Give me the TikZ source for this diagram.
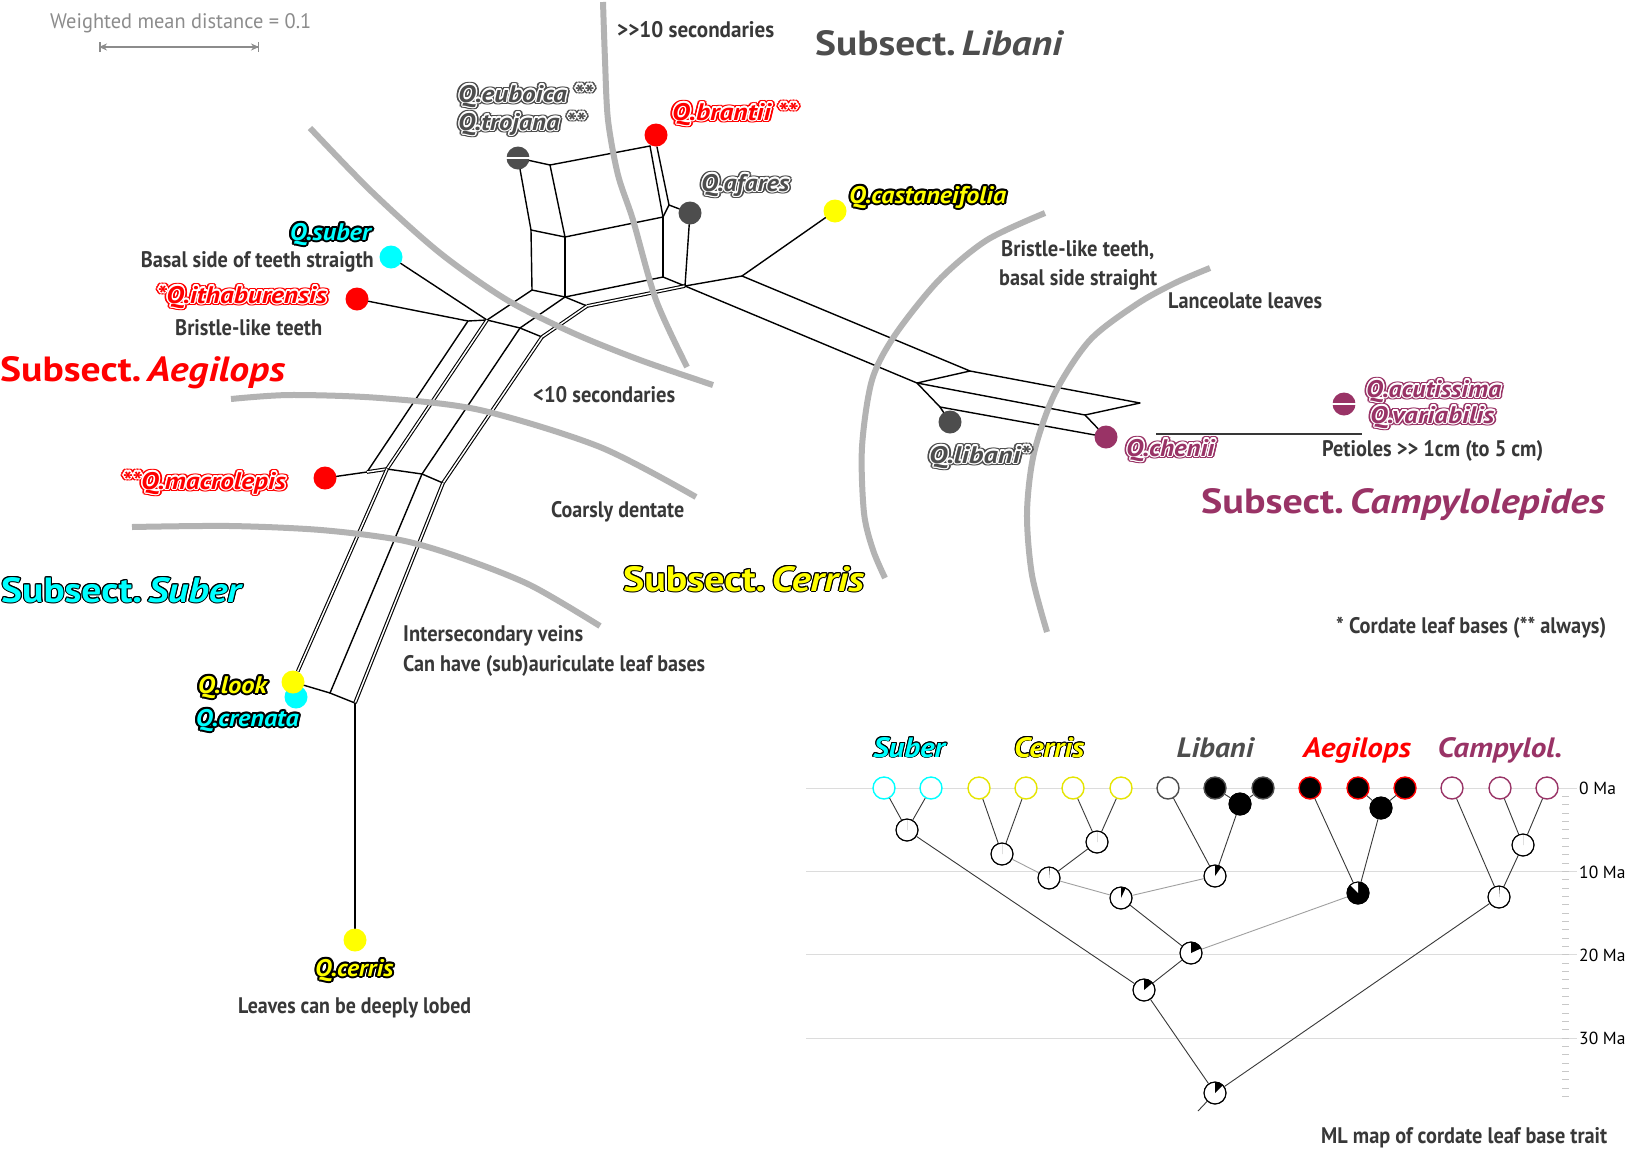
\documentclass[tikz,border=0pt]{standalone}
\usepackage{fontspec}
\setmainfont{PT Sans}
\usepackage{graphicx}
\usepackage[copies]{contour}
\contournumber{12}
\usetikzlibrary{arrows.meta}

\definecolor{txt}{HTML}{383838}
\definecolor{libc}{HTML}{4D4D4D}
\definecolor{camc}{HTML}{993366}
\definecolor{aegc}{HTML}{FF0000}
\definecolor{subc}{HTML}{00FFFF}
\definecolor{cerc}{HTML}{FFFF00}
\definecolor{arcc}{HTML}{B3B3B3}
\definecolor{gridc}{HTML}{DCDCDC}
\definecolor{tickc}{HTML}{C8C8C8}
\definecolor{scalec}{HTML}{8C8C8C}
\definecolor{lightedge}{HTML}{A0A0A0}

% set a text to a given width, keeping its height
\newcommand\wfit[2]{\resizebox{#1pt}{\height}{#2}}
% two "greater than" signs without the guillemet ligature
\newcommand\gtgt{>\kern0pt>}
% taxon label: coloured letters, thin white rim, coloured halo
\newcommand\taxw[6]{%
  \node[taxon, anchor=#2] (#1h) at #3 {\wfit{#5}{\contourlength{2.8pt}\contour{#4}{\textcolor{#4}{#6}}}};
  \node[taxon, anchor=#2] (#1) at #3 {\wfit{#5}{\contourlength{1.2pt}\contour{white}{\textcolor{#4}{#6}}}};}
% taxon label: coloured letters with a black rim
\newcommand\taxk[6]{%
  \node[taxon, anchor=#2] (#1) at #3 {\wfit{#5}{\contourlength{2pt}\contour{black}{\textcolor{#4}{#6}}}};}
% ancestral state pie: name, position, base colour, wedge colour, wedge end angle
\newcommand\anc[5]{%
  \node[tnode, fill=#3] (#1) at #2 {};
  \fill[#4] (#1.center) -- ++(0,-11) arc[start angle=-90, end angle=#5, radius=11] -- cycle;
  \draw[line width=1pt] (#1.center) circle[radius=11];}
% tip of the dated tree: name, x, outline, fill
\newcommand\tip[4]{\node[tnode, draw=#3, fill=#4, line width=1.4pt] (#1) at (#2,788) {};}

\begin{document}
\begin{tikzpicture}[x=1pt,y=-1pt,
  netline/.style={line width=1.4pt, line join=round, line cap=round},
  dblline/.style={double, double distance=1.5pt, line width=1.1pt},
  sepline/.style={arcc, line width=6pt},
  taxdot/.style={circle, inner sep=0pt, minimum size=23pt},
  taxon/.style={font=\bfseries\itshape\fontsize{24}{28}\selectfont, inner sep=0pt},
  notetext/.style={text=txt, font=\bfseries\fontsize{22.5}{26}\selectfont, inner sep=0pt},
  headtext/.style={font=\bfseries\fontsize{35}{40}\selectfont, inner sep=0pt},
  grouptext/.style={font=\bfseries\itshape\fontsize{28}{32}\selectfont, inner sep=0pt},
  matext/.style={font=\fontsize{17.5}{20}\selectfont, inner sep=0pt},
  tnode/.style={circle, inner sep=0pt, minimum size=22pt, draw=black, line width=1pt},
  tedge/.style={draw=txt, line width=0.9pt},
  tlight/.style={draw=lightedge, line width=0.9pt}]

\useasboundingbox (0,0) rectangle (1633,1152);
\fill[white] (0,0) rectangle (1633,1152);

% ---------------- scale bar ----------------
\node[font=\fontsize{21}{24}\selectfont, text=scalec, anchor=base west, inner sep=0pt] (scaletext) at (50,28) {\wfit{261}{Weighted mean distance = 0.1}};
\coordinate (sbL) at (99,47);
\coordinate (sbR) at (259,47);
\draw[scalec, line width=1.5pt, {Bar[width=10pt]}-{Bar[width=10pt]}] (sbL) -- (sbR);
\draw[scalec, line width=1.5pt, {Stealth[length=8pt,width=7pt]}-{Stealth[length=8pt,width=7pt]}] (sbL) -- (sbR);

% ---------------- taxa of the network ----------------
\node[taxdot, fill=libc] (E0) at (518,158) {};
\node[taxdot, fill=aegc] (BR) at (656,135) {};
\node[taxdot, fill=libc] (AF) at (690,213) {};
\node[taxdot, fill=cerc] (CA) at (835,211) {};
\node[taxdot, fill=subc] (SU) at (391,257) {};
\node[taxdot, fill=aegc] (IT) at (357,299) {};
\node[taxdot, fill=aegc] (MA) at (325,478) {};
\node[taxdot, fill=subc] (CR) at (296,697) {};
\node[taxdot, fill=cerc] (LK) at (293,682) {};
\node[taxdot, fill=cerc] (CE) at (355,940) {};
\node[taxdot, fill=libc] (LB) at (950,422) {};
\node[taxdot, fill=camc] (CH) at (1106,437) {};
\node[taxdot, fill=camc] (AC) at (1344,404) {};
\draw[white, line width=1.3pt] (E0.west) -- (E0.east);
\draw[white, line width=1.3pt] (AC.west) -- (AC.east);

% ---------------- split network ----------------
\coordinate (A1) at (550,165);
\coordinate (BRa) at (650,146);
\coordinate (BRb) at (657,147);
\coordinate (C1) at (531,230);
\coordinate (D1) at (565,237);
\coordinate (F1) at (663,217);
\coordinate (G1) at (669,205);
\coordinate (C2) at (532,290);
\coordinate (D2) at (565,297);
\coordinate (F2) at (663,277);
\coordinate (G2) at (685,286);
\coordinate (H) at (587,306);
\coordinate (P0) at (468,321);
\coordinate (P1) at (487,320);
\coordinate (P2) at (520,328);
\coordinate (P3) at (542,337);
\coordinate (Q0) at (367,472);
\coordinate (Q1) at (387,469);
\coordinate (Q2) at (422,474);
\coordinate (Q3) at (443,483);
\coordinate (R1) at (330,693);
\coordinate (R2) at (355,703);
\coordinate (K) at (742,276);
\coordinate (L1) at (970,371);
\coordinate (L2) at (917,383);
\coordinate (L3) at (1140,403);
\coordinate (L4) at (1085,415);
\coordinate (L5) at (940,407);

% upper box (Libani / Aegilops part)
\draw[netline] (E0) -- (A1) -- (BRa);
\draw[netline] (E0) -- (C1) -- (D1) -- (A1);
\draw[netline] (BRa) -- (F1);
\draw[netline] (BRb) -- (G1);
\draw[netline] (F1) -- (G1) -- (AF);
\draw[netline] (D1) -- (F1);
\draw[netline] (C1) -- (C2);
\draw[netline] (D1) -- (D2);
\draw[netline] (F1) -- (F2);
\draw[netline] (AF) -- (G2);
\draw[netline] (C2) -- (D2) -- (F2) -- (G2);
\draw[netline] (D2) -- (H);
\draw[dblline] (H) -- (G2);
% band towards Q. cerris
\draw[netline] (SU) -- (P1);
\draw[netline] (IT) -- (P0) -- (P1) -- (C2);
\draw[netline] (P1) -- (P2) -- (P3);
\draw[netline] (D2) -- (P2);
\draw[dblline] (H) -- (P3);
\draw[netline] (P0) -- (Q0);
\draw[dblline] (P1) -- (Q1);
\draw[netline] (P2) -- (Q2);
\draw[dblline] (P3) -- (Q3);
\draw[netline] (MA) -- (Q0);
\draw[dblline] (Q0) -- (Q1);
\draw[netline] (Q1) -- (Q2) -- (Q3);
\draw[dblline] (Q1) -- (LK);
\draw[netline] (LK) -- (R1) -- (R2);
\draw[netline] (Q2) -- (R1);
\draw[dblline] (Q3) -- (R2);
\draw[netline] (R2) -- (CE);
% band towards Q. chenii
\draw[netline] (G2) -- (K) -- (CA);
\draw[netline] (K) -- (L1) -- (L3) -- (L4) -- (L2) -- (L1);
\draw[netline] (G2) -- (L2) -- (L5) -- (LB);
\draw[netline] (L5) -- (CH);
\draw[netline] (L4) -- (CH);

% petiole bar
\coordinate (pt1) at (1156,434);
\coordinate (pt2) at (1362,434);
\draw[txt, line width=1.6pt] (pt1) -- (pt2);

% ---------------- grey boundaries ----------------
\draw[sepline] plot[smooth] coordinates {(603,2) (605,60) (608,120) (618,175) (633,220) (656,300) (687,367)};
\draw[sepline] plot[smooth] coordinates {(310,128) (372,192) (440,253) (507,300) (573,333) (640,360) (713,385)};
\draw[sepline] plot[smooth] coordinates {(231,399) (290,395) (380,398) (480,410) (600,447) (696,497)};
\draw[sepline] plot[smooth] coordinates {(132,527) (230,526) (321,530) (400,540) (459,557) (530,585) (600,626)};
\draw[sepline] plot[smooth] coordinates {(1045,213) (987,240) (939,280) (895,335) (872,380) (862,447) (864,513) (873,550) (885,578)};
\draw[sepline] plot[smooth] coordinates {(1210,268) (1175,283) (1137,304) (1090,340) (1055,393) (1034,453) (1027,513) (1032,575) (1047,632)};

% ---------------- taxon names ----------------
\taxw{tEu}{base west}{(458,102)}{libc}{135}{Q.euboica **}
\taxw{tTr}{base west}{(458,130)}{libc}{127}{Q.trojana **}
\taxw{tBr}{base west}{(672,120)}{aegc}{125}{Q.brantii **}
\taxw{tAf}{base west}{(701,191)}{libc}{88}{Q.afares}
\taxk{tCa}{base west}{(849,203)}{cerc}{157}{Q.castaneifolia}
\taxk{tSu}{base east}{(371,240)}{subc}{81}{Q.suber}
\taxw{tIt}{base east}{(327,303)}{aegc}{170}{*Q.ithaburensis}
\taxw{tMa}{base east}{(286,489)}{aegc}{164}{**Q.macrolepis}
\taxk{tLk}{base east}{(267,693)}{cerc}{69}{Q.look}
\taxk{tCr}{base east}{(299,726)}{subc}{103}{Q.crenata}
\taxk{tCe}{base west}{(315,976)}{cerc}{78}{Q.cerris}
\taxw{tAc}{base west}{(1366,397)}{camc}{135}{Q.acutissima}
\taxw{tVa}{base west}{(1370,423)}{camc}{124}{Q.variabilis}
\taxw{tLb}{base west}{(929,463)}{libc}{101}{Q.libani*}
\taxw{tCh}{base west}{(1126,456)}{camc}{88}{Q.chenii}

% ---------------- character notes ----------------
\node[notetext, anchor=base west] (n1) at (617,37) {\wfit{157}{\gtgt10 secondaries}};
\node[notetext, anchor=base east] (n2) at (374,267) {\wfit{233}{Basal side of teeth straigth}};
\node[notetext, anchor=base west] (n3) at (175,335) {\wfit{147}{Bristle-like teeth}};
\node[notetext, anchor=base west] (n4) at (533,402) {\wfit{142}{<10 secondaries}};
\node[notetext, anchor=base west] (n5) at (551,517) {\wfit{133}{Coarsly dentate}};
\node[notetext, anchor=base west] (n6) at (403,641) {\wfit{180}{Intersecondary veins}};
\node[notetext, anchor=base west] (n7) at (403,671) {\wfit{302}{Can have (sub)auriculate leaf bases}};
\node[notetext, anchor=base west] (n8) at (238,1013) {\wfit{233}{Leaves can be deeply lobed}};
\node[notetext, anchor=base west] (n9) at (1001,256) {\wfit{153}{Bristle-like teeth,}};
\node[notetext, anchor=base west] (n10) at (999,285) {\wfit{158}{basal side straight}};
\node[notetext, anchor=base west] (n11) at (1168,308) {\wfit{154}{Lanceolate leaves}};
\node[notetext, anchor=base west] (n12) at (1322,456) {\wfit{221}{Petioles \gtgt{} 1cm (to 5 cm)}};
\node[notetext, anchor=base west] (n13) at (1336,633) {\wfit{270}{* Cordate leaf bases (** always)}};
\node[notetext, anchor=base west] (n14) at (1321,1143) {\wfit{286}{ML map of cordate leaf base trait}};

% ---------------- subsections ----------------
\node[headtext, text=libc, anchor=base west] (hLib) at (815,55) {\wfit{249}{Subsect.\hspace{0.15em}\textit{Libani}}};
\node[headtext, text=aegc, anchor=base west] (hAeg) at (0,381) {\wfit{285}{Subsect.\hspace{0.15em}\textit{Aegilops}}};
\node[headtext, anchor=base west] (hSub) at (1,602) {\wfit{242}{\contourlength{1pt}\contour{black}{\textcolor{subc}{Subsect.\hspace{0.15em}\textit{Suber}}}}};
\node[headtext, anchor=base west] (hCer) at (623,591) {\wfit{241}{\contourlength{1pt}\contour{black}{\textcolor{cerc}{Subsect.\hspace{0.15em}\textit{Cerris}}}}};
\node[headtext, text=camc, anchor=base west] (hCam) at (1201,513) {\wfit{404}{Subsect.\hspace{0.15em}\textit{Campylolepides}}};

% ---------------- dated tree: time axis ----------------
\foreach \m/\yy in {0/788,10/871.3,20/954.7,30/1038}{
  \draw[gridc, line width=1pt] (806,\yy) -- (1577,\yy);
  \node[matext, anchor=base west] (ma\m) at (1579,\yy+6.7) {\m\ Ma};
}
\foreach \k in {1,...,37}{
  \draw[tickc, line width=1pt] (1562,{788+8.333*\k}) -- ++(7,0);
}

% group names
\node[grouptext, anchor=base] (gSub) at (909,757) {\wfit{72}{\contourlength{0.9pt}\contour{black}{\textcolor{subc}{Suber}}}};
\node[grouptext, anchor=base] (gCer) at (1049,757) {\wfit{70}{\contourlength{0.9pt}\contour{black}{\textcolor{cerc}{Cerris}}}};
\node[grouptext, text=libc, anchor=base] (gLib) at (1215,757) {\wfit{77}{Libani}};
\node[grouptext, text=aegc, anchor=base] (gAeg) at (1357,757) {\wfit{108}{Aegilops}};
\node[grouptext, text=camc, anchor=base] (gCam) at (1500,757) {\wfit{125}{Campylol.}};

% tips
\tip{s1}{884}{subc}{white}
\tip{s2}{931}{subc}{white}
\tip{c1}{979}{cerc!90!black}{white}
\tip{c2}{1026}{cerc!90!black}{white}
\tip{c3}{1073}{cerc!90!black}{white}
\tip{c4}{1121}{cerc!90!black}{white}
\tip{l1}{1168}{libc}{white}
\tip{l2}{1215}{libc}{black}
\tip{l3}{1263}{libc}{black}
\tip{a1}{1310}{aegc}{black}
\tip{a2}{1358}{aegc}{black}
\tip{a3}{1405}{aegc}{black}
\tip{p1}{1452}{camc}{white}
\tip{p2}{1500}{camc}{white}
\tip{p3}{1547}{camc}{white}

% ancestral states
\anc{nS}{(907,830)}{white}{black}{-90}
\anc{nC1}{(1002,854)}{white}{black}{-90}
\anc{nC2}{(1097,842)}{white}{black}{-90}
\anc{nC3}{(1049,878)}{white}{black}{-86}
\anc{nLb}{(1240,804)}{black}{black}{-90}
\anc{nL}{(1215,876)}{white}{black}{-55}
\anc{nCL}{(1121,898)}{white}{black}{-65}
\anc{nAb}{(1381,808)}{black}{black}{-90}
\anc{nA}{(1358,893)}{black}{white}{-135}
\anc{n20}{(1191,953)}{white}{black}{-25}
\anc{n24}{(1144,990)}{white}{black}{-40}
\anc{root}{(1215,1093)}{white}{black}{-45}
\anc{nP1}{(1523,845)}{white}{black}{-90}
\anc{nP2}{(1499,897)}{white}{black}{-86}
\coordinate (stem) at (1198,1111);

% branches
\draw[tedge] (s1) -- (nS);
\draw[tedge] (s2) -- (nS);
\draw[tedge] (nS) -- (n24);
\draw[tedge] (c1) -- (nC1);
\draw[tedge] (c2) -- (nC1);
\draw[tedge] (c3) -- (nC2);
\draw[tedge] (c4) -- (nC2);
\draw[tlight] (nC1) -- (nC3);
\draw[tedge] (nC2) -- (nC3);
\draw[tlight] (nC3) -- (nCL);
\draw[tedge] (l1) -- (nL);
\draw[tedge] (l2) -- (nLb);
\draw[tedge] (l3) -- (nLb);
\draw[tedge] (nLb) -- (nL);
\draw[tlight] (nL) -- (nCL);
\draw[tedge] (nCL) -- (n20);
\draw[tedge] (a1) -- (nA);
\draw[tedge] (a2) -- (nAb);
\draw[tedge] (a3) -- (nAb);
\draw[tedge] (nAb) -- (nA);
\draw[tlight] (nA) -- (n20);
\draw[tedge] (n20) -- (n24);
\draw[tedge] (n24) -- (root);
\draw[tedge] (root) -- (nP2);
\draw[tedge] (root) -- (stem);
\draw[tedge] (p1) -- (nP2);
\draw[tedge] (p2) -- (nP1);
\draw[tedge] (p3) -- (nP1);
\draw[tedge] (nP1) -- (nP2);

\end{tikzpicture}
\end{document}
